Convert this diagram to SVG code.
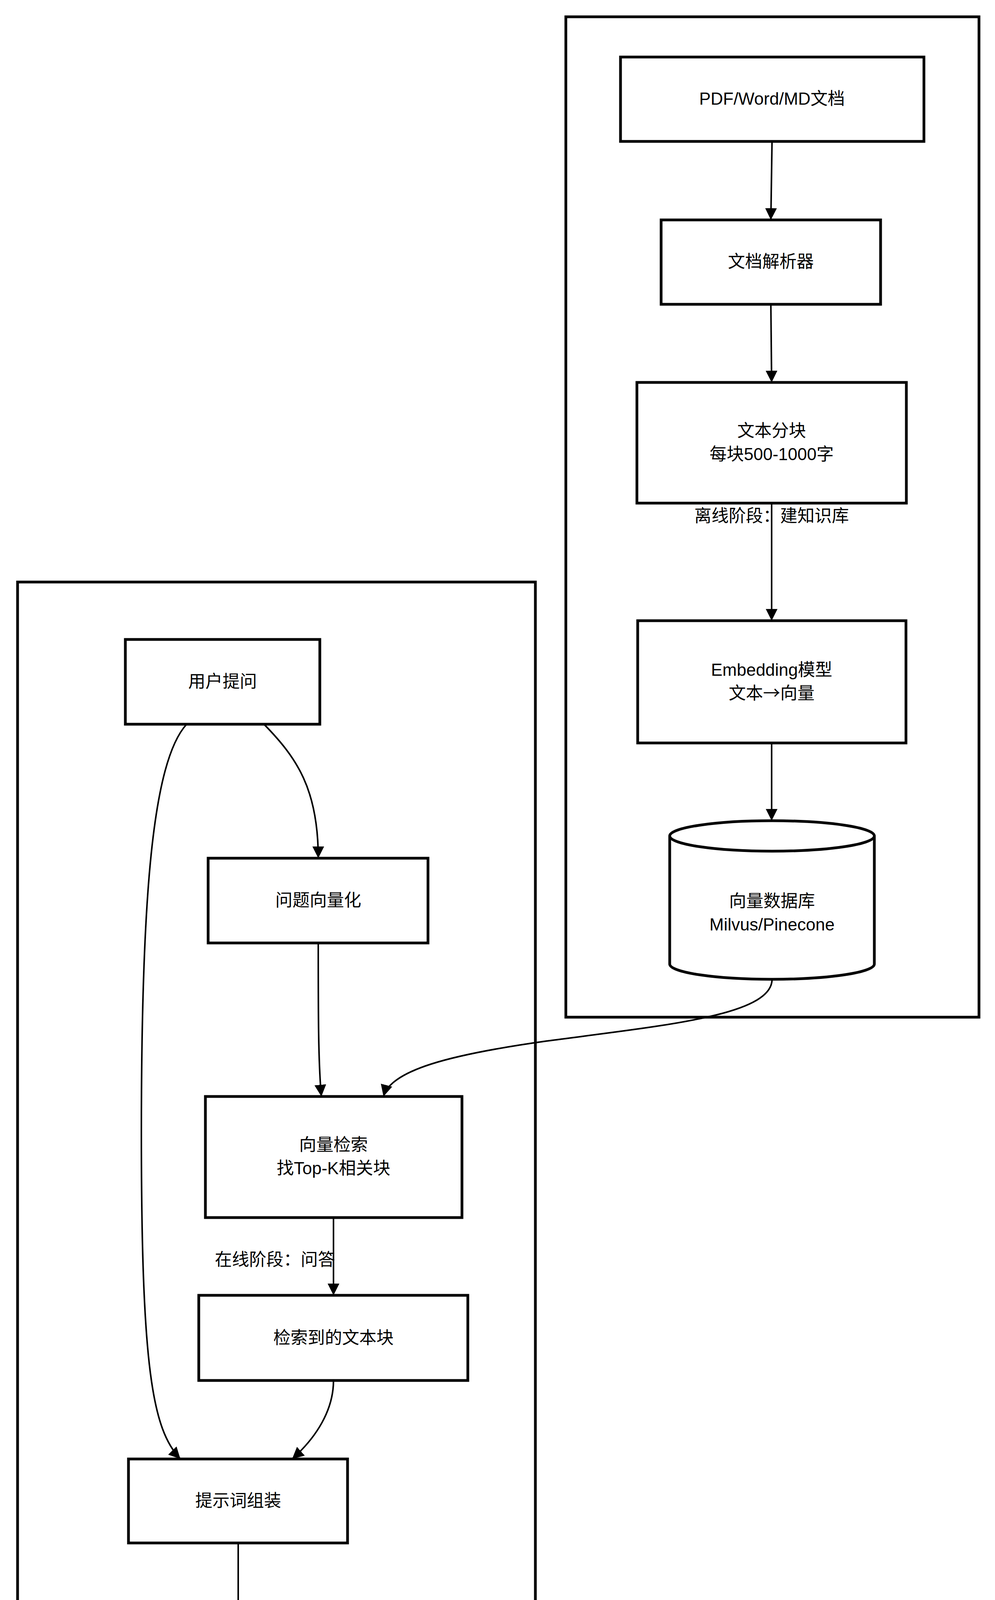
<svg xmlns="http://www.w3.org/2000/svg" width="2548" height="5020" viewBox="0 0 2548 5020">
<style>
.box{fill:#fff;stroke:#000;stroke-width:7}
.grp{fill:none;stroke:#000;stroke-width:7}
.e{fill:none;stroke:#000;stroke-width:4}
text{font-family:"Liberation Sans","Noto Sans CJK SC",sans-serif;font-size:44px;text-anchor:middle;fill:#000}
.cjk{font-family:"Noto Sans CJK SC",sans-serif}
</style>
<defs>
<marker id="b" viewBox="0 0 30 30" refX="30" refY="15" markerWidth="30" markerHeight="30" orient="auto" markerUnits="userSpaceOnUse">
<path d="M0,0 L30,15 L0,30 z" fill="#000"/>
</marker>
</defs>
<rect class="grp" x="1449" y="43" width="1058" height="2561"/>
<rect class="grp" x="45" y="1490" width="1326" height="3487"/>
<g id="edges">
<path class="e" marker-end="url(#b)" d="M1977,362 L1974,563"/>
<path class="e" marker-end="url(#b)" d="M1974,779 L1976,979"/>
<path class="e" marker-end="url(#b)" d="M1976,1288 L1976,1589"/>
<path class="e" marker-end="url(#b)" d="M1976,1902 L1976,2101"/>
<path class="e" marker-end="url(#b)" d="M1977,2507 C1977,2600 1700,2625 1400,2665 C1150,2700 1000,2740 982,2807"/>
<path class="e" marker-end="url(#b)" d="M676,1854 C760,1940 815,2020 815,2197"/>
<path class="e" marker-end="url(#b)" d="M478,1854 C390,1950 362,2300 362,2900 C362,3500 390,3660 462,3735"/>
<path class="e" marker-end="url(#b)" d="M815,2414 C815,2600 815,2720 823,2807"/>
<path class="e" marker-end="url(#b)" d="M854,3117 L854,3316"/>
<path class="e" marker-end="url(#b)" d="M854,3534 C854,3610 810,3680 748,3735"/>
<path class="e" marker-end="url(#b)" d="M610,3950 L610,4150"/>
<path class="e" marker-end="url(#b)" d="M610,4461 L610,4662"/>
</g>
<text x="1976" y="1336">离线阶段：建知识库</text>
<text x="704" y="3240">在线阶段：问答</text>
<g id="n1"><rect class="box" x="1589" y="146" width="777" height="216"/><text x="1977" y="268">PDF/Word/MD文档</text></g>
<g id="n2"><rect class="box" x="1693" y="563" width="562" height="216"/><text x="1974" y="685">文档解析器</text></g>
<g id="n3"><rect class="box" x="1631" y="979" width="690" height="309"/><text x="1976" y="1118">文本分块</text><text x="1976" y="1178">每块500-1000字</text></g>
<g id="n4"><rect class="box" x="1633" y="1589" width="687" height="313"/><text x="1976" y="1730">Embedding模型</text><text x="1976" y="1790">文本<tspan class="cjk">→</tspan>向量</text></g>
<g id="n5"><path class="box" d="M1715,2140 L1715,2468 A262,39 0 0 0 2239,2468 L2239,2140 A262,39 0 0 0 1715,2140 A262,39 0 0 0 2239,2140"/><text x="1977" y="2322">向量数据库</text><text x="1977" y="2382">Milvus/Pinecone</text></g>
<g id="n6"><rect class="box" x="321" y="1637" width="498" height="217"/><text x="570" y="1760">用户提问</text></g>
<g id="n7"><rect class="box" x="533" y="2197" width="563" height="217"/><text x="815" y="2320">问题向量化</text></g>
<g id="n8"><rect class="box" x="526" y="2807" width="657" height="310"/><text x="854" y="2946">向量检索</text><text x="854" y="3006">找Top-K相关块</text></g>
<g id="n9"><rect class="box" x="509" y="3316" width="689" height="218"/><text x="854" y="3440">检索到的文本块</text></g>
<g id="n10"><rect class="box" x="329" y="3735" width="561" height="215"/><text x="610" y="3857">提示词组装</text></g>
<g id="n11"><rect class="box" x="202" y="4150" width="817" height="311"/><text x="610" y="4290">大模型</text><text x="610" y="4350">结合问题和资料回答</text></g>
<g id="n12"><rect class="box" x="296" y="4662" width="625" height="215"/><text x="610" y="4784">带引用的答案</text></g>
</svg>
